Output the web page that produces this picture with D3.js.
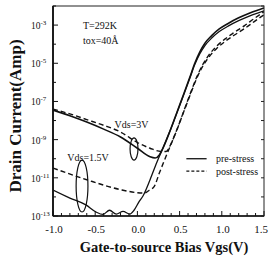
<!DOCTYPE html>
<html>
<head>
<meta charset="utf-8">
<script src="https://cdn.jsdelivr.net/npm/d3@7"></script>
<style>
  body { margin: 0; background: #fff; }
  text { font-family: "Liberation Serif", "DejaVu Serif", serif; fill: #111; }
</style>
</head>
<body>
<div id="chart"></div>
<script>
// Vgs (V) and log10 of drain current (A)
const vgsPre3 = [-1.0, -0.8, -0.6, -0.4, -0.2, 0.0, 0.15, 0.21, 0.26, 0.303, 0.386, 0.47, 0.55, 0.62, 0.68, 0.74, 0.8, 0.88, 0.97, 1.08, 1.2, 1.34, 1.5];
const logPre3 = [-7.45, -7.75, -8.08, -8.45, -8.86, -9.45, -9.9, -9.96, -9.8, -9.44, -8.55, -7.55, -6.6, -5.75, -5.0, -4.4, -3.95, -3.55, -3.2, -2.9, -2.62, -2.35, -2.1];

const vgsPost3 = [-1.0, -0.8, -0.6, -0.4, -0.2, 0.0, 0.15, 0.28, 0.34, 0.4, 0.47, 0.55, 0.63, 0.7, 0.77, 0.85, 0.94, 1.04, 1.15, 1.27, 1.38, 1.5];
const logPost3 = [-7.4, -7.65, -7.95, -8.25, -8.6, -9.15, -9.45, -9.62, -9.62, -9.2, -8.45, -7.5, -6.55, -5.75, -5.1, -4.55, -4.1, -3.72, -3.38, -3.03, -2.67, -2.3];

const vgsPre15 = [-1.0, -0.8, -0.61, -0.49, -0.41, -0.33, -0.25, -0.17, -0.09, -0.04, 0.02, 0.066, 0.149, 0.232, 0.303, 0.386, 0.47, 0.55, 0.62, 0.68, 0.74, 0.8, 0.88, 0.97, 1.08, 1.2, 1.34, 1.5];
const logPre15 = [-11.64, -12.06, -12.42, -12.79, -12.92, -12.7, -12.9, -12.76, -12.9, -12.7, -12.25, -11.95, -11.11, -10.17, -9.44, -8.55, -7.58, -6.64, -5.8, -5.07, -4.5, -4.07, -3.68, -3.34, -3.04, -2.77, -2.5, -2.25];

const vgsPost15 = [-1.0, -0.6, -0.2, 0.0, 0.08, 0.14, 0.2, 0.26, 0.312, 0.383, 0.47, 0.55, 0.63, 0.7, 0.77, 0.85, 0.94, 1.04, 1.15, 1.27, 1.38, 1.5];
const logPost15 = [-10.49, -11.1, -11.62, -11.78, -11.8, -11.65, -11.45, -10.75, -10.17, -9.4, -8.47, -7.53, -6.6, -5.82, -5.19, -4.66, -4.22, -3.85, -3.52, -3.18, -2.83, -2.46];

const xTickLabels = ["-1.0", "-0.5", "0.0", "0.5", "1.0", "1.5"];
const yTickExps = [-3, -5, -7, -9, -11, -13];

const width = 270, height = 258;
const margin = { top: 6, right: 6, bottom: 42, left: 53 };

const svg = d3.select("#chart").append("svg")
  .attr("width", width).attr("height", height);

const x = d3.scaleLinear().domain([-1.0, 1.5]).range([margin.left, width - margin.right]);
const y = d3.scaleLog().domain([1e-13, 1e-2]).range([height - margin.bottom, margin.top]);

const toPts = (vs, ls) => vs.map((v, i) => [v, Math.pow(10, ls[i])]);

svg.append("clipPath").attr("id", "clip")
  .append("rect")
  .attr("x", margin.left).attr("y", margin.top)
  .attr("width", x(1.5) - x(-1.0)).attr("height", y(1e-13) - y(1e-2));

const line = d3.line()
  .x(d => x(d[0]))
  .y(d => y(d[1]))
  .curve(d3.curveMonotoneX);

const series = [
  { pts: toPts(vgsPre3, logPre3), dash: null, w: 1.6 },
  { pts: toPts(vgsPost3, logPost3), dash: "5,3", w: 1.4 },
  { pts: toPts(vgsPre15, logPre15), dash: null, w: 1.3 },
  { pts: toPts(vgsPost15, logPost15), dash: "5,3", w: 1.4 }
];

const curves = svg.append("g").attr("clip-path", "url(#clip)");
curves.selectAll("path")
  .data(series)
  .enter()
  .append("path")
  .attr("d", d => line(d.pts))
  .attr("fill", "none")
  .attr("stroke", "#111")
  .attr("stroke-width", d => d.w)
  .attr("stroke-dasharray", d => d.dash);

// frame
svg.append("rect")
  .attr("x", x(-1.0)).attr("y", y(1e-2))
  .attr("width", x(1.5) - x(-1.0)).attr("height", y(1e-13) - y(1e-2))
  .attr("fill", "none").attr("stroke", "#222").attr("stroke-width", 1);
svg.append("line")
  .attr("x1", x(-1.0)).attr("x2", x(-1.0))
  .attr("y1", y(1e-2)).attr("y2", y(1e-13))
  .attr("stroke", "#111").attr("stroke-width", 1.8);
svg.append("line")
  .attr("x1", x(-1.0)).attr("x2", x(1.5))
  .attr("y1", y(1e-13)).attr("y2", y(1e-13))
  .attr("stroke", "#111").attr("stroke-width", 1.6);

// x axis: ticks inward
const xAxis = svg.append("g")
  .attr("transform", "translate(0," + y(1e-13) + ")");
xAxis.selectAll("line")
  .data(d3.range(0, 26).map(i => -1.0 + i * 0.1))
  .enter().append("line")
  .attr("x1", d => x(d)).attr("x2", d => x(d))
  .attr("y1", 0).attr("y2", (d, i) => i % 5 === 0 ? -5 : -3)
  .attr("stroke", "#111").attr("stroke-width", 1);
xAxis.selectAll("text")
  .data(xTickLabels)
  .enter().append("text")
  .attr("x", d => Math.min(x(+d) + 1, width - 9))
  .attr("y", 17)
  .attr("text-anchor", "middle")
  .attr("font-size", 11)
  .text(d => d);

// y axis: decade ticks inward on both sides
const decades = d3.range(-13, -1);
svg.append("g").selectAll("line")
  .data(decades)
  .enter().append("line")
  .attr("x1", x(-1.0)).attr("x2", d => x(-1.0) + (d % 2 !== 0 ? 5 : 3))
  .attr("y1", d => y(Math.pow(10, d))).attr("y2", d => y(Math.pow(10, d)))
  .attr("stroke", "#111").attr("stroke-width", 1);
svg.append("g").selectAll("line")
  .data(decades)
  .enter().append("line")
  .attr("x1", x(1.5)).attr("x2", x(1.5) - 3)
  .attr("y1", d => y(Math.pow(10, d))).attr("y2", d => y(Math.pow(10, d)))
  .attr("stroke", "#222").attr("stroke-width", 1);

const yLab = svg.append("g").selectAll("text")
  .data(yTickExps)
  .enter().append("text")
  .attr("x", 31)
  .attr("y", d => y(Math.pow(10, d)) + 4)
  .attr("font-size", 9.5);
yLab.append("tspan").text("10");
yLab.append("tspan").attr("dy", -4).attr("font-size", 7).text(d => String(d));

// axis titles
svg.append("text")
  .attr("x", 164).attr("y", 252)
  .attr("text-anchor", "middle")
  .attr("font-size", 14.5).attr("font-weight", "bold")
  .text("Gate-to-source Bias Vgs(V)");
svg.append("text")
  .attr("transform", "translate(21,116) rotate(-90)")
  .attr("text-anchor", "middle")
  .attr("font-size", 17).attr("font-weight", "bold")
  .text("Drain Current(Amp)");

// annotations
svg.append("text").attr("x", x(-0.645)).attr("y", y(Math.pow(10, -3.2)))
  .attr("font-size", 10).text("T=292K");
svg.append("text").attr("x", x(-0.645)).attr("y", y(Math.pow(10, -4.0)))
  .attr("font-size", 10).text("tox=40Å");
svg.append("text").attr("x", x(-0.27)).attr("y", y(Math.pow(10, -8.4)))
  .attr("font-size", 10).text("Vds=3V");
svg.append("text").attr("x", x(-0.83)).attr("y", y(Math.pow(10, -10.12)))
  .attr("font-size", 10).text("Vds=1.5V");

const loops = [
  { v: -0.04, e: -9.49, dv: 0.047, de: 0.58 },
  { v: -0.656, e: -11.43, dv: 0.07, de: 1.36 }
];
svg.append("g").selectAll("ellipse")
  .data(loops)
  .enter().append("ellipse")
  .attr("cx", d => x(d.v))
  .attr("cy", d => y(Math.pow(10, d.e)))
  .attr("rx", d => x(d.v + d.dv) - x(d.v))
  .attr("ry", d => y(Math.pow(10, d.e - d.de)) - y(Math.pow(10, d.e)))
  .attr("fill", "none").attr("stroke", "#111").attr("stroke-width", 1.2);

// legend
const legend = svg.append("g");
const legItems = [
  { label: "pre-stress", dash: null, v: -10.0 },
  { label: "post-stress", dash: "3,2", v: -10.65 }
];
legItems.forEach(d => {
  const ly = y(Math.pow(10, d.v));
  legend.append("line")
    .attr("x1", x(0.58)).attr("x2", x(0.82))
    .attr("y1", ly).attr("y2", ly)
    .attr("stroke", "#111").attr("stroke-width", 1.3)
    .attr("stroke-dasharray", d.dash);
  legend.append("text")
    .attr("x", x(0.93)).attr("y", ly + 3.5)
    .attr("font-size", 10).text(d.label);
});
</script>
</body>
</html>
